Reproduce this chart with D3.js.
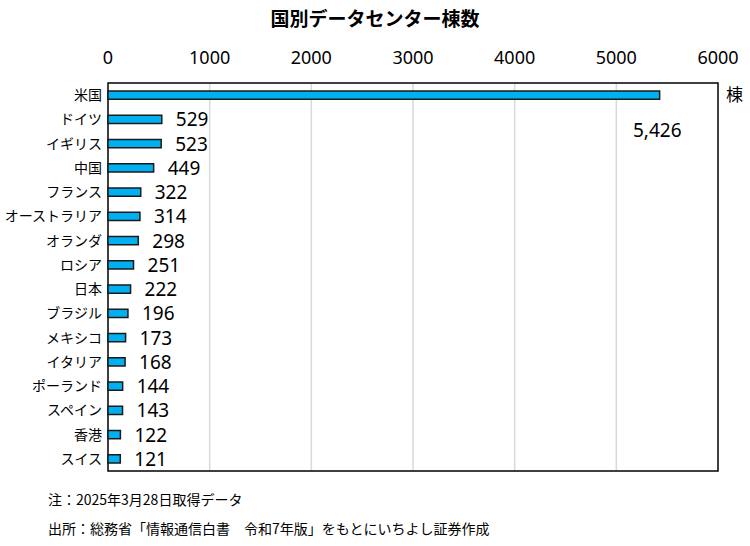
<html>
<head>
<script src="https://d3js.org/d3.v7.min.js"></script>
<style>body{margin:0;background:#fff;font-family:"Noto Sans CJK JP","Noto Sans",sans-serif;}</style>
</head>
<body>
<svg id="chart" width="750" height="546"></svg>
<script>
var countries = ["米国","ドイツ","イギリス","中国","フランス","オーストラリア","オランダ","ロシア","日本","ブラジル","メキシコ","イタリア","ポーランド","スペイン","香港","スイス"];
var counts = [5426,529,523,449,322,314,298,251,222,196,173,168,144,143,122,121];
var ticks = [0,1000,2000,3000,4000,5000,6000];

var svg = d3.select("#chart");
var plotL = 108, plotR = 718, plotT = 83, plotB = 471;
var x = d3.scaleLinear().domain([0,6000]).range([plotL,plotR]);
var y = d3.scaleBand().domain(countries).range([plotT, plotB]).paddingInner(0.66).paddingOuter(0.33);

svg.append("text").attr("x",375).attr("y",26).attr("text-anchor","middle")
  .attr("font-size",19).attr("font-weight","bold").text("国別データセンター棟数");

// grid
svg.selectAll(".grid").data(ticks.slice(1,-1)).enter().append("line")
  .attr("x1",d=>x(d)).attr("x2",d=>x(d)).attr("y1",plotT).attr("y2",plotB)
  .attr("stroke","#d9d9d9").attr("stroke-width",1.5);

svg.selectAll(".tick").data(ticks).enter().append("text")
  .attr("x",d=>x(d)).attr("y",64).attr("text-anchor","middle")
  .attr("font-size",18).attr("font-family","Noto Sans, sans-serif").text(d=>d);

svg.append("rect").attr("x",plotL).attr("y",plotT).attr("width",plotR-plotL).attr("height",plotB-plotT)
  .attr("fill","none").attr("stroke","#000").attr("stroke-width",1.5);

svg.selectAll(".bar").data(countries).enter().append("rect")
  .attr("x",x(0)).attr("y",d=>y(d)).attr("width",(d,i)=>x(counts[i])-x(0)).attr("height",y.bandwidth())
  .attr("fill","#00b0f0").attr("stroke","#1a1a1a").attr("stroke-width",1.5);

svg.selectAll(".cat").data(countries).enter().append("text")
  .attr("x",plotL-6).attr("y",d=>y(d)+y.bandwidth()/2+5).attr("text-anchor","end")
  .attr("font-size",14).text(d=>d);

svg.selectAll(".val").data(countries.slice(1)).enter().append("text")
  .attr("x",(d,i)=>x(counts[i+1])+14).attr("y",d=>y(d)+y.bandwidth()/2+7)
  .attr("font-size",19).attr("font-family","Noto Sans, sans-serif").text((d,i)=>d3.format(",")(counts[i+1]));

svg.append("text").attr("x",633).attr("y",137).attr("font-size",19)
  .attr("font-family","Noto Sans, sans-serif").text(d3.format(",")(counts[0]));

svg.append("text").attr("x",726).attr("y",101).attr("font-size",17).text("棟");

svg.append("text").attr("x",48).attr("y",505).attr("font-size",14).text("注：2025年3月28日取得データ");
svg.append("text").attr("x",48).attr("y",534).attr("font-size",14).text("出所：総務省「情報通信白書　令和7年版」をもとにいちよし証券作成");
</script>
</body>
</html>
